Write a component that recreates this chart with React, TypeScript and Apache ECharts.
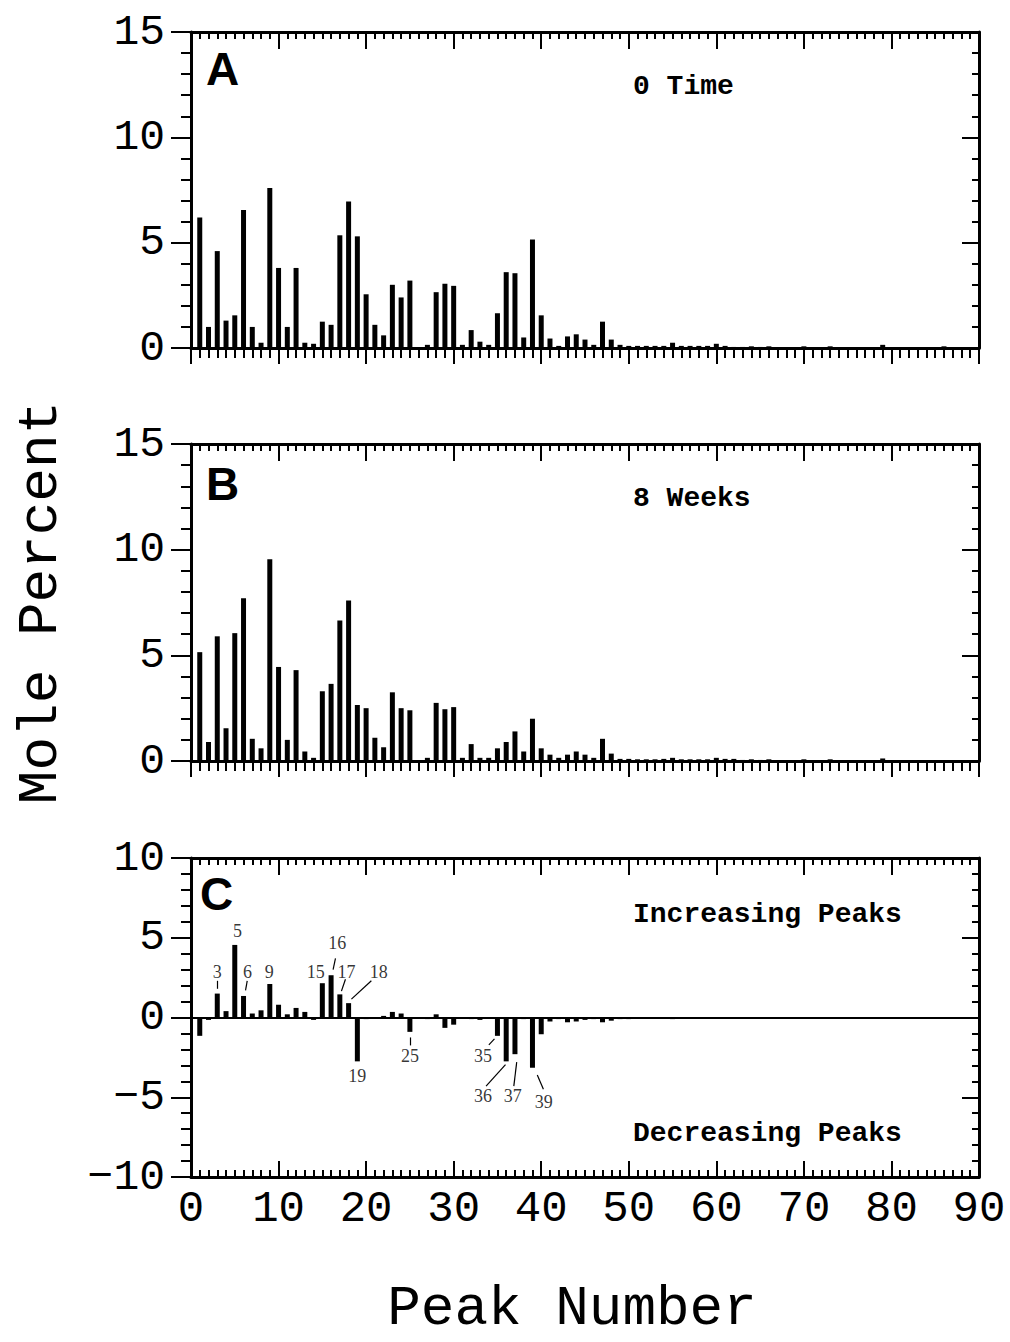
import React, { useEffect, useRef } from "react";
import * as echarts from "echarts";

// Peak numbers 1..90
const peakNumbers: number[] = [
  1, 2, 3, 4, 5, 6, 7, 8, 9, 10, 11, 12, 13, 14, 15, 16, 17, 18, 19, 20,
  21, 22, 23, 24, 25, 26, 27, 28, 29, 30, 31, 32, 33, 34, 35, 36, 37, 38, 39, 40,
  41, 42, 43, 44, 45, 46, 47, 48, 49, 50, 51, 52, 53, 54, 55, 56, 57, 58, 59, 60,
  61, 62, 63, 64, 65, 66, 67, 68, 69, 70, 71, 72, 73, 74, 75, 76, 77, 78, 79, 80,
  81, 82, 83, 84, 85, 86, 87, 88, 89, 90,
];

// Panel A: 0 Time (mole percent)
const molePctA: number[] = [
  6.2, 1.0, 4.6, 1.3, 1.55, 6.55, 1.0, 0.25, 7.6, 3.8,
  1.0, 3.8, 0.25, 0.2, 1.25, 1.1, 5.35, 6.95, 5.3, 2.55,
  1.1, 0.6, 3.0, 2.4, 3.2, 0, 0.15, 2.65, 3.05, 2.95,
  0.15, 0.85, 0.3, 0.15, 1.65, 3.6, 3.55, 0.5, 5.15, 1.55,
  0.45, 0.1, 0.55, 0.65, 0.4, 0.15, 1.25, 0.4, 0.15, 0.1,
  0.1, 0.1, 0.1, 0.1, 0.25, 0.1, 0.1, 0.1, 0.1, 0.2,
  0.1, 0.05, 0.05, 0.08, 0.05, 0.08, 0, 0, 0, 0.08,
  0, 0, 0.08, 0, 0, 0, 0, 0, 0.15, 0,
  0, 0, 0, 0, 0, 0.08, 0, 0, 0, 0,
];

// Panel B: 8 Weeks (mole percent)
const molePctB: number[] = [
  5.15, 0.9, 5.9, 1.55, 6.05, 7.7, 1.05, 0.6, 9.55, 4.45,
  1.0, 4.3, 0.45, 0.15, 3.3, 3.65, 6.65, 7.6, 2.65, 2.5,
  1.1, 0.65, 3.25, 2.5, 2.4, 0, 0.15, 2.75, 2.45, 2.55,
  0.15, 0.8, 0.15, 0.15, 0.6, 0.9, 1.4, 0.45, 2.0, 0.6,
  0.3, 0.15, 0.3, 0.45, 0.3, 0.15, 1.05, 0.35, 0.1, 0.1,
  0.08, 0.08, 0.08, 0.1, 0.15, 0.08, 0.08, 0.08, 0.08, 0.15,
  0.1, 0.1, 0.05, 0.08, 0.05, 0.08, 0, 0, 0, 0.08,
  0, 0, 0.08, 0, 0, 0, 0, 0, 0.12, 0,
  0, 0, 0, 0, 0, 0, 0, 0, 0, 0,
];

// Panel C: change (B - A)
const diffC: number[] = [
  -1.15, -0.15, 1.5, 0.4, 4.55, 1.35, 0.25, 0.45, 2.1, 0.8,
  0.2, 0.6, 0.35, -0.15, 2.15, 2.65, 1.45, 0.9, -2.75, -0.1,
  0, 0.1, 0.35, 0.25, -0.9, 0, -0.1, 0.2, -0.65, -0.45,
  0, -0.1, -0.15, -0.05, -1.15, -2.75, -2.3, -0.1, -3.15, -1.05,
  -0.25, -0.1, -0.3, -0.25, -0.15, -0.1, -0.3, -0.2, -0.1, -0.1,
  -0.05, -0.05, -0.05, -0.05, -0.1, -0.05, 0, 0, 0, -0.05,
  0, 0, 0, 0, 0, 0, 0, 0, 0, 0,
  0, 0, 0, 0, 0, 0, 0, 0, 0, 0,
  0, 0, 0, 0, 0, 0, 0, 0, 0, 0,
];

// Peak annotations in panel C: [x, y, text]
const peakLabelX: number[] = [3.0, 5.3, 6.45, 8.95, 14.25, 16.7, 17.75, 21.45, 19.0, 25.0, 33.35, 33.35, 36.75, 40.3];
const peakLabelY: number[] = [2.85, 5.45, 2.85, 2.85, 2.85, 4.65, 2.85, 2.85, -3.65, -2.4, -2.4, -4.95, -4.95, -5.3];
const peakLabelText: string[] = ["3", "5", "6", "9", "15", "16", "17", "18", "19", "25", "35", "36", "37", "39"];

// Leader lines: [x1, y1, x2, y2]
const leaderLines: number[][] = [
  [3.0, 2.3, 3.0, 1.8],
  [6.42, 2.3, 6.23, 1.7],
  [16.5, 3.7, 16.23, 3.0],
  [17.64, 2.4, 17.18, 1.65],
  [20.6, 2.3, 18.32, 1.15],
  [25.0, -1.25, 25.0, -1.75],
  [34.02, -1.72, 34.66, -1.34],
  [33.7, -4.3, 35.92, -2.95],
  [36.87, -4.3, 37.2, -2.8],
  [40.25, -4.5, 39.55, -3.6],
];

const xTicks = { min: 0, max: 90, interval: 10 };
const yTicksAB = { min: 0, max: 15, interval: 5 };
const yTicksC = { min: -10, max: 10, interval: 5 };

const BLACK = "#000";
const MONO = "'Liberation Mono', 'DejaVu Sans Mono', monospace";

function xAxisPair(gridIndex: number, showLabels: boolean, bottomInside: boolean, withName: boolean) {
  const common = {
    type: "value",
    gridIndex,
    min: xTicks.min,
    max: xTicks.max,
    interval: xTicks.interval,
    splitLine: { show: false },
    minorSplitLine: { show: false },
  };
  return [
    {
      ...common,
      position: "bottom",
      axisLine: { show: true, onZero: false, lineStyle: { color: BLACK, width: 3 } },
      axisTick: { show: true, inside: bottomInside, length: 16, lineStyle: { color: BLACK, width: 2 } },
      minorTick: { show: true, splitNumber: 10, length: bottomInside ? 7 : 10, lineStyle: { color: BLACK, width: 2 } },
      axisLabel: {
        show: showLabels,
        margin: 10,
        color: BLACK,
        fontFamily: MONO,
        fontSize: 44,
      },
      name: withName ? "Peak Number" : "",
      nameLocation: "middle",
      nameGap: 104,
      nameTextStyle: { color: BLACK, fontFamily: MONO, fontSize: 56, lineHeight: 56, padding: [0, 26, 0, 0] },
    },
    {
      ...common,
      position: "top",
      axisLine: { show: true, onZero: false, lineStyle: { color: BLACK, width: 3 } },
      axisTick: { show: true, inside: true, length: 17, lineStyle: { color: BLACK, width: 2 } },
      minorTick: { show: true, splitNumber: 10, length: 7, lineStyle: { color: BLACK, width: 2 } },
      axisLabel: { show: false },
    },
  ];
}

function yAxisPair(gridIndex: number, ticks: { min: number; max: number; interval: number }, withName: boolean) {
  const common = {
    type: "value",
    gridIndex,
    min: ticks.min,
    max: ticks.max,
    interval: ticks.interval,
    splitLine: { show: false },
    minorSplitLine: { show: false },
  };
  return [
    {
      ...common,
      position: "left",
      axisLine: { show: true, onZero: false, lineStyle: { color: BLACK, width: 3 } },
      axisTick: { show: true, inside: false, length: 20, lineStyle: { color: BLACK, width: 2 } },
      minorTick: { show: true, splitNumber: 5, length: 10, lineStyle: { color: BLACK, width: 2 } },
      axisLabel: {
        show: true,
        margin: 26,
        color: BLACK,
        fontFamily: MONO,
        fontSize: 43,
        formatter: (v: number) => String(v).replace("-", "\u2212"),
      },
      name: withName ? "Mole Percent" : "",
      nameLocation: "middle",
      nameRotate: 90,
      nameGap: 122,
      nameTextStyle: { color: BLACK, fontFamily: MONO, fontSize: 56 },
    },
    {
      ...common,
      position: "right",
      axisLine: { show: true, onZero: false, lineStyle: { color: BLACK, width: 3 } },
      axisTick: { show: true, inside: true, length: 17, lineStyle: { color: BLACK, width: 2 } },
      minorTick: { show: true, splitNumber: 5, length: 7, lineStyle: { color: BLACK, width: 2 } },
      axisLabel: { show: false },
    },
  ];
}

function barSeries(gridIdx: number, values: number[], extra: any = {}) {
  return {
    type: "bar",
    xAxisIndex: gridIdx * 2,
    yAxisIndex: gridIdx * 2,
    barWidth: 5,
    itemStyle: { color: BLACK },
    data: values.map((v, i) => [peakNumbers[i], v]),
    silent: true,
    ...extra,
  };
}

export default function App() {
  const ref = useRef<HTMLDivElement>(null);

  useEffect(() => {
    if (!ref.current) return;
    const chart = echarts.init(ref.current, null, { renderer: "svg" });

    const panelLetter = (text: string, x: number, y: number) => ({
      type: "text",
      x,
      y,
      style: {
        text,
        fontFamily: "'Liberation Sans', Arial, sans-serif",
        fontWeight: 900,
        fontSize: 46,
        fill: BLACK,
        verticalAlign: "middle",
        align: "left",
      },
    });
    const panelNote = (text: string, x: number, y: number) => ({
      type: "text",
      x,
      y,
      style: {
        text,
        fontFamily: MONO,
        fontWeight: "bold",
        fontSize: 28,
        fill: BLACK,
        verticalAlign: "middle",
        align: "left",
      },
    });

    const option: any = {
      animation: false,
      backgroundColor: "#fff",
      grid: [
        { left: 191, top: 32, width: 788, height: 316, containLabel: false, outerBoundsMode: "none" },
        { left: 191, top: 444, width: 788, height: 317, containLabel: false, outerBoundsMode: "none" },
        { left: 191, top: 858, width: 788, height: 319, containLabel: false, outerBoundsMode: "none" },
      ],
      xAxis: [
        ...xAxisPair(0, false, false, false),
        ...xAxisPair(1, false, false, false),
        ...xAxisPair(2, true, true, true),
      ],
      yAxis: [
        ...yAxisPair(0, yTicksAB, false),
        ...yAxisPair(1, yTicksAB, true),
        ...yAxisPair(2, yTicksC, false),
      ],
      series: [
        barSeries(0, molePctA),
        barSeries(1, molePctB),
        barSeries(2, diffC, {
          markLine: {
            silent: true,
            symbol: ["none", "none"],
            label: { show: false },
            lineStyle: { color: BLACK, width: 2, type: "solid" },
            data: [{ yAxis: 0 }],
          },
        }),
        {
          type: "scatter",
          xAxisIndex: 4,
          yAxisIndex: 4,
          symbolSize: 0,
          silent: true,
          data: peakLabelX.map((x, i) => [x, peakLabelY[i], peakLabelText[i]]),
          label: {
            show: true,
            position: "inside",
            formatter: (p: any) => p.value[2],
            fontFamily: "'Liberation Serif', 'DejaVu Serif', serif",
            fontSize: 18,
            color: BLACK,
          },
          markLine: {
            silent: true,
            symbol: ["none", "none"],
            label: { show: false },
            lineStyle: { color: BLACK, width: 1.2, type: "solid" },
            data: leaderLines.map((l) => [{ coord: [l[0], l[1]] }, { coord: [l[2], l[3]] }]),
          },
        },
      ],
      graphic: [
        panelLetter("A", 206, 69),
        panelLetter("B", 206, 484),
        panelLetter("C", 200, 894),
        panelNote("0 Time", 633, 86),
        panelNote("8 Weeks", 633, 498),
        panelNote("Increasing Peaks", 633, 914),
        panelNote("Decreasing Peaks", 633, 1133),
      ],
    };

    chart.setOption(option);
    return () => chart.dispose();
  }, []);

  return (
    <div
      ref={ref}
      style={{ position: "absolute", left: 0, top: 0, width: 1010, height: 1342, background: "#fff" }}
    />
  );
}
